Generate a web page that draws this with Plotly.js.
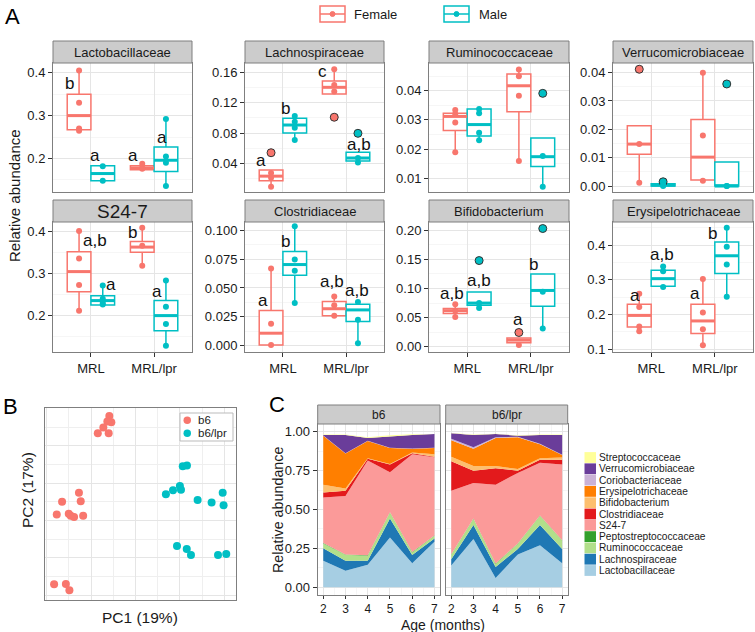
<!DOCTYPE html>
<html><head><meta charset="utf-8">
<script src="https://cdn.plot.ly/plotly-3.0.1.min.js"></script>
<style>html,body{margin:0;padding:0;background:#fff}#chart{width:755px;height:632px}</style>
</head><body><div id="chart"></div>
<script>
// ---------------- DATA ----------------
const genotypes = ['MRL', 'MRL/lpr'];
const sexes = ['Female', 'Male'];
// group order in every panel: Female MRL, Male MRL, Female MRL/lpr, Male MRL/lpr
// box stats per group: [lower whisker, q1, median, q3, upper whisker]
const boxLacto = [[0.267,0.267,0.300,0.350,0.405],[0.148,0.148,0.165,0.183,0.183],[0.174,0.174,0.178,0.183,0.188],[0.136,0.170,0.196,0.227,0.292]];
const ptsLacto = [[0.405,0.330,0.270,0.265],[0.182,0.148],[0.188,0.178,0.176],[0.292,0.205,0.190,0.136]];
const outLacto = [[],[],[],[]];
const labLacto = ['b','a','a','a'];
const labXLacto = [0.66,1.07,1.67,2.12];
const labYLacto = [0.374,0.208,0.208,0.250];

const boxLachno = [[0.009,0.017,0.023,0.031,0.031],[0.071,0.080,0.0907,0.0996,0.1027],[0.1318,0.1318,0.1406,0.149,0.1645],[0.041,0.043,0.047,0.0546,0.0546]];
const ptsLachno = [[0.027,0.021,0.009],[0.1027,0.095,0.087,0.071],[0.1645,0.1437,0.135],[0.047,0.041]];
const outLachno = [[0.054],[],[0.101],[0.0797]];
const labLachno = ['a','b','c','a,b'];
const labXLachno = [0.65,1.04,1.63,2.20];
const labYLachno = [0.0434,0.112,0.161,0.065];

const boxRumino = [[0.0189,0.0264,0.0312,0.0323,0.0334],[0.0230,0.0245,0.0284,0.0337,0.0337],[0.0159,0.0328,0.0417,0.0457,0.0473],[0.0071,0.0140,0.0174,0.0238,0.0238]];
const ptsRumino = [[0.0334,0.032,0.0291,0.0189],[0.0337,0.0323,0.0256,0.023],[0.0473,0.045,0.0383,0.0159],[0.0176,0.0071]];
const outRumino = [[],[],[],[0.0391]];
const labRumino = [], labXRumino = [], labYRumino = [];

const boxVerruco = [[0.0012,0.0112,0.0148,0.0213,0.0213],[0,0,0.0003,0.0008,0.0008],[0.0019,0.0021,0.0102,0.0235,0.040],[0,0,0,0.0085,0.0085]];
const ptsVerruco = [[0.0148,0.0012],[0.0003,0],[0.040,0.0178,0.0019],[0,0]];
const outVerruco = [[0.0412],[0.0015],[],[0.036]];
const labVerruco = [], labXVerruco = [], labYVerruco = [];

const boxS24 = [[0.212,0.2566,0.304,0.351,0.400],[0.225,0.225,0.2355,0.247,0.271],[0.318,0.350,0.362,0.375,0.408],[0.129,0.1645,0.200,0.236,0.283]];
const ptsS24 = [[0.400,0.335,0.2726,0.2118],[0.271,0.240,0.230,0.226],[0.408,0.365,0.318],[0.283,0.221,0.180,0.129]];
const outS24 = [[],[],[],[]];
const labS24 = ['a,b','a','b','a'];
const labXS24 = [1.07,1.32,1.66,2.04];
const labYS24 = [0.377,0.273,0.396,0.257];

const boxClost = [[0.0006,0.0006,0.0108,0.0305,0.0668],[0.0369,0.061,0.0703,0.0817,0.1035],[0.0259,0.0259,0.032,0.0383,0.0427],[0.002,0.021,0.031,0.036,0.0378]];
const ptsClost = [[0.0668,0.0189,0.0006],[0.1035,0.0747,0.065,0.0369],[0.0427,0.035,0.0259],[0.0378,0.0224,0.002]];
const outClost = [[],[],[],[]];
const labClost = ['a','b','a,b','a,b'];
const labXClost = [0.69,1.04,1.77,2.18];
const labYClost = [0.039,0.090,0.0552,0.0475];

const boxBifido = [[0.051,0.057,0.062,0.0658,0.073],[0.0666,0.0713,0.075,0.094,0.094],[0.003,0.007,0.0114,0.015,0.015],[0.0314,0.0696,0.0967,0.125,0.125]];
const ptsBifido = [[0.073,0.062,0.051],[0.075,0.0666],[0.003],[0.0946,0.0314]];
const outBifido = [[],[0.148],[0.0245],[0.203]];
const labBifido = ['a,b','a,b','a','b'];
const labXBifido = [0.76,1.19,1.80,2.04];
const labYBifido = [0.092,0.114,0.047,0.1417];

const boxErysip = [[0.1516,0.1634,0.197,0.229,0.2597],[0.279,0.281,0.303,0.327,0.338],[0.111,0.145,0.181,0.229,0.302],[0.251,0.318,0.369,0.409,0.4499]];
const ptsErysip = [[0.2597,0.221,0.165,0.1516],[0.338,0.324,0.279],[0.302,0.205,0.157,0.111],[0.4499,0.395,0.344,0.251]];
const outErysip = [[],[],[],[]];
const labErysip = ['a','a,b','a','b'];
const labXErysip = [0.75,1.17,1.69,1.97];
const labYErysip = [0.255,0.374,0.259,0.434];

// Panel B (PCA, arbitrary units)
const pcaB6X = [2.82,2.91,2.73,2.55,2.30,2.79,1.45,0.69,1.53,0.45,0.99,1.08,1.23,1.64,0.33,0.86,1.02];
const pcaB6Y = [9.59,9.26,9.29,8.97,8.67,8.67,5.48,5.00,5.03,4.32,4.36,4.25,4.19,4.25,0.59,0.61,0.27];
const pcaLprX = [6.13,6.32,6.00,5.69,5.37,6.05,6.80,7.43,7.93,7.97,5.87,6.31,6.50,7.72,8.09];
const pcaLprY = [6.90,6.94,5.85,5.62,5.41,5.64,5.10,4.96,5.49,4.82,2.64,2.48,2.16,2.16,2.21];
const pcaGroups = ['b6', 'b6/lpr'];

// Panel C (stacked relative abundance)
const months = [2,3,4,5,6,7];
const taxa = ['Lactobacillaceae','Lachnospiraceae','Ruminococcaceae','Peptostreptococcaceae','S24-7','Clostridiaceae','Bifidobacterium','Erysipelotrichaceae','Coriobacteriaceae','Verrucomicrobiaceae','Streptococcaceae'];
const taxaColors = ['#A6CEE3','#1F78B4','#B2DF8A','#33A02C','#FB9A99','#E31A1C','#FDBF6F','#FF7F00','#CAB2D6','#6A3D9A','#FFFF99'];
const abundB6 = [
  [0.170,0.106,0.145,0.320,0.154,0.292],
  [0.080,0.064,0.025,0.122,0.053,0.022],
  [0.032,0.039,0.033,0.039,0.017,0.017],
  [0.002,0.002,0.002,0.002,0.002,0.002],
  [0.293,0.376,0.610,0.257,0.629,0.503],
  [0.033,0.033,0.011,0.050,0.007,0.004],
  [0.050,0.015,0.004,0.003,0.004,0.015],
  [0.315,0.225,0.110,0.102,0.024,0.040],
  [0.001,0.002,0.002,0.002,0.002,0.002],
  [0.004,0.118,0.018,0.073,0.088,0.088],
  [0.002,0.002,0.005,0.008,0.004,0.001]];
const abundLpr = [
  [0.140,0.310,0.060,0.210,0.270,0.154],
  [0.040,0.090,0.070,0.036,0.130,0.092],
  [0.030,0.040,0.020,0.034,0.060,0.054],
  [0.002,0.002,0.002,0.002,0.002,0.002],
  [0.408,0.228,0.508,0.453,0.338,0.488],
  [0.190,0.080,0.105,0.015,0.020,0.030],
  [0.030,0.030,0.015,0.010,0.010,0.015],
  [0.105,0.110,0.180,0.205,0.090,0.015],
  [0.010,0.010,0.005,0.003,0.003,0.002],
  [0.035,0.080,0.020,0.007,0.057,0.128],
  [0.002,0.002,0.002,0.002,0.002,0.002]];
const facetsC = ['b6', 'b6/lpr'];

// ---------------- LAYOUT HELPERS ----------------
const FONT = 'Liberation Sans, Arial, Helvetica, sans-serif';
const W = 755, H = 632;
const PX = v => v / W;
const PY = v => 1 - v / H;
const sexColors = ['#F8766D', '#00BFC4'];
const BORDER = '#7F7F7F', STRIP = '#CCCCCC', GRID = '#E5E5E5', MINOR = '#F6F6F6';
const DODGE = 0.1875, BOXW = 0.375;

const panels = [
  {name:'Lactobacillaceae', box:boxLacto, pts:ptsLacto, out:outLacto, lab:labLacto, lx:labXLacto, ly:labYLacto, range:[0.122,0.4226], dtick:0.1, fmt:'.1f'},
  {name:'Lachnospiraceae', box:boxLachno, pts:ptsLachno, out:outLachno, lab:labLachno, lx:labXLachno, ly:labYLachno, range:[0.002,0.1728], dtick:0.04, fmt:'.2f'},
  {name:'Ruminococcaceae', box:boxRumino, pts:ptsRumino, out:outRumino, lab:labRumino, lx:labXRumino, ly:labYRumino, range:[0.0053,0.0495], dtick:0.01, fmt:'.2f'},
  {name:'Verrucomicrobiaceae', box:boxVerruco, pts:ptsVerruco, out:outVerruco, lab:labVerruco, lx:labXVerruco, ly:labYVerruco, range:[-0.0021,0.0434], dtick:0.01, fmt:'.2f'},
  {name:'S24-7', box:boxS24, pts:ptsS24, out:outS24, lab:labS24, lx:labXS24, ly:labYS24, range:[0.114,0.4213], dtick:0.1, fmt:'.1f', big:true},
  {name:'Clostridiaceae', box:boxClost, pts:ptsClost, out:outClost, lab:labClost, lx:labXClost, ly:labYClost, range:[-0.0055,0.1072], dtick:0.025, fmt:'.3f'},
  {name:'Bifidobacterium', box:boxBifido, pts:ptsBifido, out:outBifido, lab:labBifido, lx:labXBifido, ly:labYBifido, range:[-0.009,0.2142], dtick:0.05, fmt:'.2f'},
  {name:'Erysipelotrichaceae', box:boxErysip, pts:ptsErysip, out:outErysip, lab:labErysip, lx:labXErysip, ly:labYErysip, range:[0.0914,0.4664], dtick:0.1, fmt:'.1f'}
];
const colsA = [[53,192],[245,384],[429,569],[613,753]];
const rowsA = [[63,192],[222,352]];
const stripsA = [[41,63],[200,222]];

const traces = [];
const layout = {
  width: W, height: H, margin:{l:0,r:0,t:0,b:0}, showlegend:false, hovermode:false,
  paper_bgcolor:'#fff', plot_bgcolor:'#fff', font:{family:FONT, size:13, color:'#000'},
  boxmode:'overlay', shapes:[], annotations:[]
};

function axisCommon() {
  return {showline:true, mirror:true, linecolor:BORDER, linewidth:1, zeroline:false,
          showgrid:true, gridcolor:GRID, gridwidth:1, tickfont:{family:FONT,size:13,color:'#1a1a1a'},
          ticks:'outside', ticklen:4, tickwidth:1, tickcolor:'#333', fixedrange:true};
}

panels.forEach((p, i) => {
  const n = i + 1, s = n === 1 ? '' : String(n);
  const xa = 'x' + s, ya = 'y' + s;
  const col = colsA[i % 4], row = rowsA[Math.floor(i / 4)], strip = stripsA[Math.floor(i / 4)];
  const bottom = i >= 4;
  layout['xaxis' + s] = Object.assign(axisCommon(), {
    domain:[PX(col[0]), PX(col[1])], anchor: ya, range:[0.4, 2.6],
    tickvals:[1,2], ticktext: genotypes, showticklabels: bottom, ticks: bottom ? 'outside' : ''
  });
  layout['yaxis' + s] = Object.assign(axisCommon(), {
    domain:[PY(row[1]), PY(row[0])], anchor: xa, range:p.range, dtick:p.dtick, tick0:0, tickformat:p.fmt,
    minor:{dtick:p.dtick/2, tick0:0, showgrid:true, gridcolor:MINOR, ticks:''}
  });
  // strip
  layout.shapes.push({type:'rect', xref:'paper', yref:'paper', x0:PX(col[0]), x1:PX(col[1]), y0:PY(strip[1]), y1:PY(strip[0]),
    fillcolor:STRIP, line:{color:BORDER, width:1}});
  layout.annotations.push({xref:'paper', yref:'paper', x:PX((col[0]+col[1])/2), y:PY((strip[0]+strip[1])/2),
    text:p.name, showarrow:false, xanchor:'center', yanchor:'middle', font:{family:FONT, size:p.big?19:13, color:'#1a1a1a'}});

  p.box.forEach((b, g) => {
    const sex = g % 2, geno = Math.floor(g / 2);
    const pos = (geno + 1) + (sex === 0 ? -DODGE : DODGE);
    const c = sexColors[sex];
    traces.push({type:'box', orientation:'v', xaxis:xa, yaxis:ya, x:[pos], lowerfence:[b[0]], q1:[b[1]], median:[b[2]], q3:[b[3]], upperfence:[b[4]],
      width:BOXW, boxpoints:false, whiskerwidth:0, fillcolor:'rgba(255,255,255,1)', line:{color:c, width:1.5}, hoverinfo:'skip'});
    traces.push({type:'scatter', mode:'lines', xaxis:xa, yaxis:ya, x:[pos-BOXW/2, pos+BOXW/2], y:[b[2], b[2]],
      line:{color:c, width:3}, hoverinfo:'skip'});
    if (p.out[g].length) {
      traces.push({type:'scatter', mode:'markers', xaxis:xa, yaxis:ya, x:p.out[g].map(() => pos), y:p.out[g],
        marker:{size:8, color:c, line:{color:'#333', width:1}}, hoverinfo:'skip'});
    }
    traces.push({type:'scatter', mode:'markers', xaxis:xa, yaxis:ya, x:p.pts[g].map(() => pos), y:p.pts[g],
      marker:{size:6, color:c}, hoverinfo:'skip'});
  });
  p.lab.forEach((t, k) => {
    layout.annotations.push({xref:xa, yref:ya, x:p.lx[k], y:p.ly[k], text:t, showarrow:false,
      xanchor:'center', yanchor:'middle', font:{family:FONT, size:17, color:'#111'}});
  });
});

// Legend for A (drawn in paper space)
const legA = [[320, 352], [444, 477]];
sexes.forEach((sx, k) => {
  const x0 = legA[k][0], x1 = x0 + 25, yc = 14;
  layout.shapes.push({type:'rect', xref:'paper', yref:'paper', x0:PX(x0), x1:PX(x1), y0:PY(yc+8), y1:PY(yc-8), line:{color:sexColors[k], width:1.5}, fillcolor:'#fff'});
  layout.shapes.push({type:'line', xref:'paper', yref:'paper', x0:PX(x0), x1:PX(x1), y0:PY(yc), y1:PY(yc), line:{color:sexColors[k], width:1.5}});
  layout.shapes.push({type:'circle', xref:'paper', yref:'paper', x0:PX(x0+10), x1:PX(x0+15), y0:PY(yc+2.5), y1:PY(yc-2.5), line:{color:sexColors[k], width:1}, fillcolor:sexColors[k]});
  layout.annotations.push({xref:'paper', yref:'paper', x:PX(legA[k][1]), y:PY(yc), text:sx, showarrow:false, xanchor:'left', yanchor:'middle', font:{family:FONT, size:13, color:'#1a1a1a'}});
});
layout.annotations.push({xref:'paper', yref:'paper', x:PX(14), y:PY(196), text:'Relative abundance', textangle:-90, showarrow:false, xanchor:'center', yanchor:'middle', font:{family:FONT, size:15, color:'#1a1a1a'}});

// Panel labels
[['A',12,16],['B',10,406],['C',277,404]].forEach(l => layout.annotations.push({xref:'paper', yref:'paper', x:PX(l[1]), y:PY(l[2]), text:l[0], showarrow:false, xanchor:'center', yanchor:'middle', font:{family:FONT, size:22, color:'#000'}}));

// ---------------- PANEL B ----------------
layout.xaxis9 = Object.assign(axisCommon(), {domain:[PX(45), PX(236)], anchor:'y9', range:[-0.08, 8.53], dtick:2, tick0:0, showticklabels:false, ticks:'',
  minor:{dtick:1, showgrid:true, gridcolor:'#EFEFEF'}});
layout.yaxis9 = Object.assign(axisCommon(), {domain:[PY(600), PY(408.3)], anchor:'x9', range:[-0.25, 10.0], dtick:2, tick0:0, showticklabels:false, ticks:'',
  minor:{dtick:1, showgrid:true, gridcolor:'#EFEFEF'}});
traces.push({type:'scatter', mode:'markers', xaxis:'x9', yaxis:'y9', x:pcaB6X, y:pcaB6Y, name:pcaGroups[0], marker:{size:8, color:sexColors[0]}, hoverinfo:'skip'});
traces.push({type:'scatter', mode:'markers', xaxis:'x9', yaxis:'y9', x:pcaLprX, y:pcaLprY, name:pcaGroups[1], marker:{size:8, color:sexColors[1]}, hoverinfo:'skip'});
layout.shapes.push({type:'rect', xref:'paper', yref:'paper', x0:PX(180), x1:PX(233), y0:PY(441), y1:PY(413), line:{color:'#BBBBBB', width:1}, fillcolor:'#fff'});
pcaGroups.forEach((g, k) => {
  const yc = 420.3 + k * 13;
  layout.shapes.push({type:'circle', xref:'paper', yref:'paper', x0:PX(183.5), x1:PX(191), y0:PY(yc+3.75), y1:PY(yc-3.75), line:{color:sexColors[k], width:0}, fillcolor:sexColors[k]});
  layout.annotations.push({xref:'paper', yref:'paper', x:PX(197), y:PY(yc), text:g, showarrow:false, xanchor:'left', yanchor:'middle', borderpad:0, font:{family:FONT, size:11.5, color:'#1a1a1a'}});
});
layout.annotations.push({xref:'paper', yref:'paper', x:PX(140), y:PY(617), text:'PC1 (19%)', showarrow:false, xanchor:'center', yanchor:'middle', font:{family:FONT, size:15.5, color:'#1a1a1a'}});
layout.annotations.push({xref:'paper', yref:'paper', x:PX(27), y:PY(490), text:'PC2 (17%)', textangle:-90, showarrow:false, xanchor:'center', yanchor:'middle', font:{family:FONT, size:15.5, color:'#1a1a1a'}});

// ---------------- PANEL C ----------------
const colsC = [[317.7, 440], [445.7, 567.7]];
const cTop = 424, cBottom = 595;
[abundB6, abundLpr].forEach((abund, f) => {
  const n = 10 + f, xa = 'x' + n, ya = 'y' + n;
  layout['xaxis' + n] = Object.assign(axisCommon(), {domain:[PX(colsC[f][0]), PX(colsC[f][1])], anchor:ya, range:[1.75, 7.25], dtick:1, tick0:0,
    ticklen:3, tickfont:{family:FONT, size:12, color:'#1a1a1a'},
    minor:{dtick:0.5, showgrid:true, gridcolor:MINOR, ticks:''}});
  layout['yaxis' + n] = Object.assign(axisCommon(), {domain:[PY(cBottom), PY(cTop)], anchor:xa, range:[-0.05, 1.05], dtick:0.25, tick0:0, tickformat:'.2f',
    showticklabels: f === 0, ticks: f === 0 ? 'outside' : '', minor:{dtick:0.125, showgrid:true, gridcolor:MINOR, ticks:''}});
  abund.forEach((vals, t) => {
    traces.push({type:'scatter', mode:'lines', xaxis:xa, yaxis:ya, x:months, y:vals, stackgroup:'s' + f, name:taxa[t],
      line:{width:0, color:taxaColors[t]}, fillcolor:taxaColors[t], hoverinfo:'skip'});
  });
  layout.shapes.push({type:'rect', xref:'paper', yref:'paper', x0:PX(colsC[f][0]), x1:PX(colsC[f][1]), y0:PY(cTop), y1:PY(405), fillcolor:STRIP, line:{color:BORDER, width:1}});
  layout.annotations.push({xref:'paper', yref:'paper', x:PX((colsC[f][0]+colsC[f][1])/2), y:PY(414.5), text:facetsC[f], showarrow:false, xanchor:'center', yanchor:'middle', font:{family:FONT, size:12, color:'#1a1a1a'}});
});
layout.annotations.push({xref:'paper', yref:'paper', x:PX(442.5), y:PY(625), text:'Age (months)', showarrow:false, xanchor:'center', yanchor:'middle', borderpad:0, font:{family:FONT, size:14, color:'#1a1a1a'}});
layout.annotations.push({xref:'paper', yref:'paper', x:PX(278), y:PY(510), text:'Relative abundance', textangle:-90, showarrow:false, xanchor:'center', yanchor:'middle', font:{family:FONT, size:14.3, color:'#1a1a1a'}});
// Legend C (reverse stacking order)
taxa.slice().reverse().forEach((t, k) => {
  const idx = taxa.length - 1 - k;
  const yc = 457.5 + k * 11.3;
  layout.shapes.push({type:'rect', xref:'paper', yref:'paper', x0:PX(584.5), x1:PX(596), y0:PY(yc+5.4), y1:PY(yc-5.4), fillcolor:taxaColors[idx], line:{width:0}});
  layout.annotations.push({xref:'paper', yref:'paper', x:PX(598), y:PY(yc), text:t, showarrow:false, xanchor:'left', yanchor:'middle', borderpad:0, font:{family:FONT, size:10.2, color:'#1a1a1a'}});
});

Plotly.newPlot('chart', traces, layout, {staticPlot:true, displayModeBar:false});
</script></body></html>
